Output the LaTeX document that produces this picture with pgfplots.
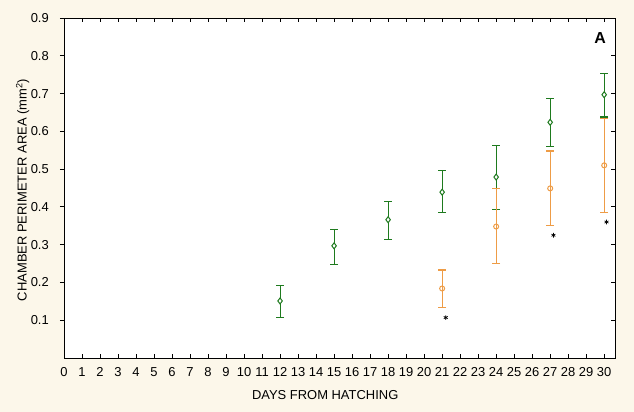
\documentclass[border=0pt]{standalone}
\usepackage{fontspec}
\setmainfont{Liberation Sans}
\usepackage{pgfplots}
\pgfplotsset{compat=1.18}
\definecolor{bgbeige}{HTML}{FCF7EA}
\definecolor{sgreen}{HTML}{1E7A1E}
\definecolor{sorange}{HTML}{EE9C46}

% x  mean  plus  minus
\pgfplotstableread{
x  y      ep     em
12 0.151  0.041  0.044
15 0.297  0.043  0.049
18 0.366  0.048  0.052
21 0.439  0.057  0.055
24 0.479  0.084  0.086
27 0.624  0.062  0.065
30 0.697  0.055  0.059
}\greendata
\pgfplotstableread{
x  y      ep     em
21 0.184  0.049  0.050
24 0.348  0.101  0.098
27 0.449  0.099  0.098
30 0.510  0.125  0.125
}\orangedata

\pgfplotsset{
  chamber/.style={
    at={(0,0)}, anchor=south west,
    scale only axis, width=551bp, height=340bp,
    xmin=0, xmax=30.6, ymin=0, ymax=0.9,
    major tick length=4bp,
    every tick/.style={black, line width=0.8bp},
    axis line style={black, line width=0.9bp},
    font=\fontsize{13}{15}\selectfont,
    /pgf/number format/assume math mode=true,
    /pgf/number format/.cd, fixed, precision=1,
  },
}

\begin{document}
\begin{tikzpicture}
\fill[bgbeige] (-64bp,-54bp) rectangle (570bp,358bp);
\useasboundingbox (-64bp,-54bp) rectangle (570bp,358bp);

\begin{axis}[chamber,
  axis background/.style={fill=white},
  tick align=inside,
  xtick={0,...,30},
  ytick={0.1,0.2,0.3,0.4,0.5,0.6,0.7,0.8,0.9},
  ytick pos=right, yticklabels={},
  xticklabel style={anchor=north, inner sep=0pt, yshift=-9bp},
  xlabel={DAYS FROM HATCHING},
  xlabel style={at={(axis description cs:0.474,-0.109)}, anchor=center},
  clip=false,
]
\addplot[sgreen, line width=1.1bp, only marks,
  mark=diamond*, mark size=3bp,
  mark options={fill=white, draw=sgreen, line width=1bp},
  error bars/.cd, y dir=both, y explicit,
  error bar style={sgreen, line width=1.1bp},
  error mark options={sgreen, line width=1.1bp, mark size=4bp, rotate=90}]
  table[x=x, y=y, y error plus=ep, y error minus=em] {\greendata};
\addplot[sorange, line width=1.1bp, only marks,
  mark=o, mark size=2.5bp,
  mark options={fill=white, draw=sorange, line width=1bp},
  error bars/.cd, y dir=both, y explicit,
  error bar style={sorange, line width=1.1bp},
  error mark options={sorange, line width=1.1bp, mark size=4bp, rotate=90}]
  table[x=x, y=y, y error plus=ep, y error minus=em] {\orangedata};
% significance stars
\addplot[black, only marks, mark=asterisk, mark size=2.3bp,
  mark options={line width=0.7bp}]
  coordinates {(21.2,0.107) (27.18,0.325) (30.13,0.360)};
\node[font=\bfseries\fontsize{16}{18}\selectfont] at (axis cs:29.78,0.848) {A};
\end{axis}

\begin{axis}[chamber,
  tick align=outside,
  xtick=\empty,
  ytick={0.1,0.2,0.3,0.4,0.5,0.6,0.7,0.8,0.9},
  ytick pos=left,
  yticklabel style={anchor=east, inner sep=0pt, xshift=-11bp},
  ylabel={CHAMBER PERIMETER AREA (mm\textsuperscript{2})},
  ylabel style={at={(axis description cs:-0.075,0.494)}, anchor=center},
]
\end{axis}
\end{tikzpicture}
\end{document}
